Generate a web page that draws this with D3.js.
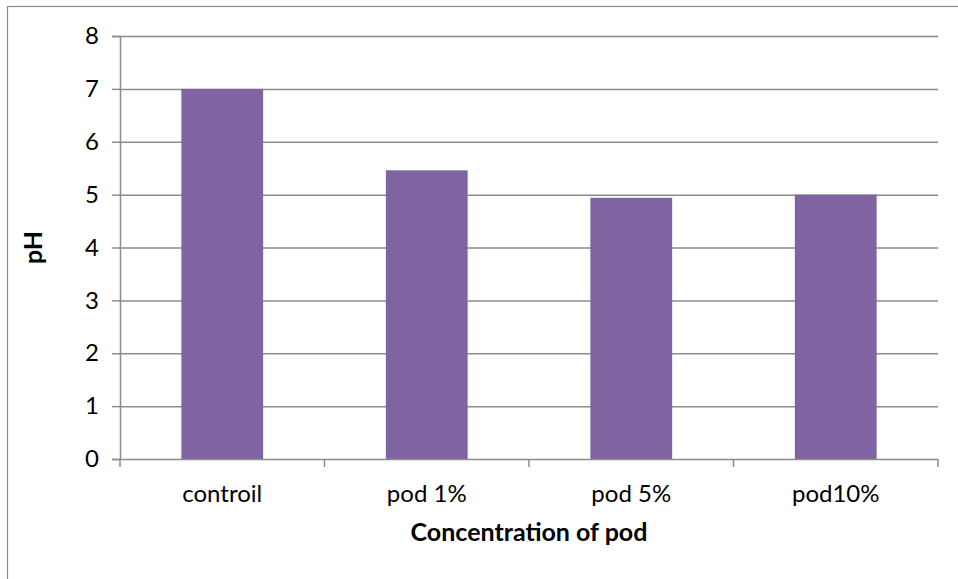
<!DOCTYPE html>
<html>
<head>
<meta charset="utf-8">
<script src="https://cdn.jsdelivr.net/npm/d3@7"></script>
<style>
  html, body { margin: 0; padding: 0; background: #fff; }
  svg { display: block; }
  text { font-family: Lato, "Open Sans", sans-serif; fill: #000; }
</style>
</head>
<body>
<svg id="chart" width="958" height="579"></svg>
<script>
// pH of each sample
const categories = ["controil", "pod 1%", "pod 5%", "pod10%"];
const phValues = [7.0, 5.46, 4.94, 5.0];
const yTicks = [0, 1, 2, 3, 4, 5, 6, 7, 8];

const svg = d3.select("#chart");
const W = 958, H = 579;
const m = { left: 120, top: 36 };
const plotW = 938 - m.left;
const plotH = 459 - m.top;
const FONT = "Lato, 'Open Sans', sans-serif";
const FS = 24;

// outer frame (only left and top edges fall inside the view)
svg.append("rect")
  .attr("x", 7.5).attr("y", 6.5)
  .attr("width", W + 10).attr("height", H + 10)
  .attr("fill", "none").attr("stroke", "#8c8c8c").attr("stroke-width", 1.2);

const g = svg.append("g").attr("transform", `translate(${m.left},${m.top})`);

const x = d3.scaleBand().domain(categories).range([0, plotW])
  .paddingInner(0.6).paddingOuter(0.3);
const y = d3.scaleLinear().domain([0, 8]).range([plotH, 0]);

// horizontal gridlines
g.append("g").selectAll("line").data(yTicks.filter(d => d > 0)).join("line")
  .attr("x1", 0).attr("x2", plotW)
  .attr("y1", d => y(d) + 0.5).attr("y2", d => y(d) + 0.5)
  .attr("stroke", "#8c8c8c").attr("stroke-width", 1.5);

// bars
g.append("g").selectAll("rect").data(categories).join("rect")
  .attr("x", d => x(d))
  .attr("y", (d, i) => y(phValues[i]))
  .attr("width", x.bandwidth())
  .attr("height", (d, i) => plotH - y(phValues[i]))
  .attr("fill", "#8064A2");

// y axis
const yAxis = g.append("g")
  .call(d3.axisLeft(y).tickValues(yTicks).tickSize(8).tickPadding(13).tickFormat(d3.format("d")));
yAxis.attr("font-size", FS).attr("font-family", FONT);
yAxis.select(".domain").attr("stroke", "#8c8c8c").attr("stroke-width", 1.5);
yAxis.selectAll(".tick line").attr("stroke", "#8c8c8c").attr("stroke-width", 1.5);
yAxis.selectAll(".tick text").attr("fill", "#000");

// x axis with ticks at category boundaries
const xAxis = g.append("g").attr("transform", `translate(0,${plotH})`);
xAxis.append("line").attr("x1", 0).attr("x2", plotW).attr("y1", 0.5).attr("y2", 0.5)
  .attr("stroke", "#8c8c8c").attr("stroke-width", 1.5);
const step = plotW / categories.length;
xAxis.selectAll("line.tk").data(d3.range(categories.length + 1)).join("line")
  .attr("class", "tk")
  .attr("x1", d => d * step).attr("x2", d => d * step)
  .attr("y1", 0).attr("y2", 8)
  .attr("stroke", "#8c8c8c").attr("stroke-width", 1.5);
xAxis.selectAll("text").data(categories).join("text")
  .attr("x", d => x(d) + x.bandwidth() / 2)
  .attr("y", 43)
  .attr("text-anchor", "middle")
  .attr("font-size", FS)
  .text(d => d);

// axis titles
svg.append("text")
  .attr("x", (m.left + 938) / 2).attr("y", 541)
  .attr("text-anchor", "middle")
  .attr("font-size", 25).attr("font-weight", "bold")
  .text("Concentration of pod");

svg.append("text")
  .attr("transform", `translate(42,${(36 + 459) / 2}) rotate(-90)`)
  .attr("text-anchor", "middle")
  .attr("font-size", 25).attr("font-weight", "bold")
  .text("pH");
</script>
</body>
</html>
